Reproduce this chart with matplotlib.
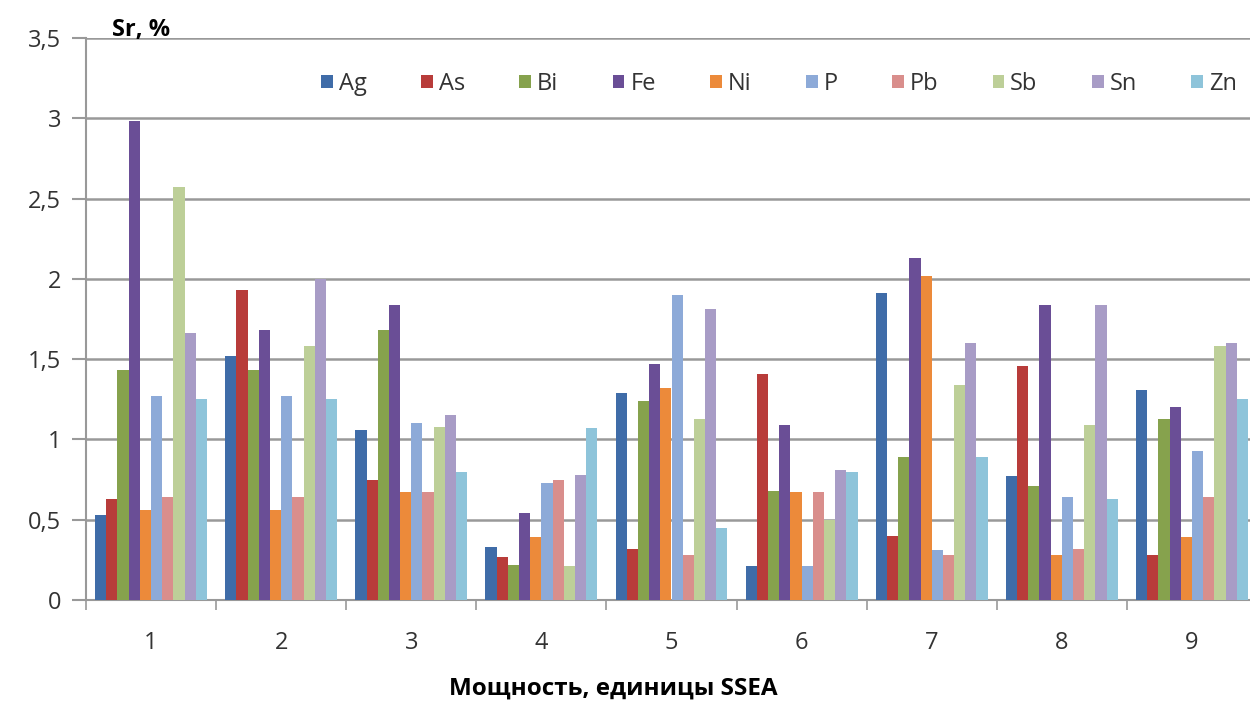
import matplotlib.pyplot as plt
import numpy as np

plt.rcParams['font.family'] = ['Open Sans', 'DejaVu Sans']

groups = ['1', '2', '3', '4', '5', '6', '7', '8', '9']
elements = ['Ag', 'As', 'Bi', 'Fe', 'Ni', 'P', 'Pb', 'Sb', 'Sn', 'Zn']

ag = [0.53, 1.52, 1.06, 0.33, 1.29, 0.21, 1.91, 0.77, 1.31]
as_ = [0.63, 1.93, 0.75, 0.27, 0.32, 1.41, 0.40, 1.46, 0.28]
bi = [1.43, 1.43, 1.68, 0.22, 1.24, 0.68, 0.89, 0.71, 1.13]
fe = [2.98, 1.68, 1.84, 0.54, 1.47, 1.09, 2.13, 1.84, 1.20]
ni = [0.56, 0.56, 0.67, 0.39, 1.32, 0.67, 2.02, 0.28, 0.39]
p = [1.27, 1.27, 1.10, 0.73, 1.90, 0.21, 0.31, 0.64, 0.93]
pb = [0.64, 0.64, 0.67, 0.75, 0.28, 0.67, 0.28, 0.32, 0.64]
sb = [2.57, 1.58, 1.08, 0.21, 1.13, 0.50, 1.34, 1.09, 1.58]
sn = [1.66, 2.00, 1.15, 0.78, 1.81, 0.81, 1.60, 1.84, 1.60]
zn = [1.25, 1.25, 0.80, 1.07, 0.45, 0.80, 0.89, 0.63, 1.25]

series = [ag, as_, bi, fe, ni, p, pb, sb, sn, zn]
colors = ['#3f6ca8', '#b83c3a', '#86a24d', '#6a4e96', '#ec8a3a',
          '#8daad8', '#d98e8c', '#bdcf98', '#a89cc6', '#8ec4da']

fig = plt.figure(figsize=(12.5, 7.02), dpi=100)
# axes runs past the right edge, like in the cropped original
ax = fig.add_axes([86 / 1250, 102 / 702, 1171 / 1250, 562 / 702])

x = np.arange(len(groups))
n = len(series)
w = 0.86 / n
for i, (vals, c, name) in enumerate(zip(series, colors, elements)):
    ax.bar(x - 0.43 + (i + 0.5) * w, vals, width=w, color=c, label=name, zorder=3)

ax.set_xlim(-0.5, len(groups) - 0.5)
ax.set_ylim(0, 3.5)
ax.set_yticks(np.arange(0, 3.51, 0.5))
ax.set_yticklabels(['0', '0,5', '1', '1,5', '2', '2,5', '3', '3,5'], fontsize=17, color='#333333')
ax.set_xticks(x)
ax.set_xticklabels(groups, fontsize=17, color='#333333')
ax.set_xticks(np.arange(-0.5, len(groups)), minor=True)
ax.tick_params(axis='x', which='major', length=0, pad=22)
ax.tick_params(axis='x', which='minor', length=7, color='#999999', width=1.2)
ax.tick_params(axis='y', length=10, color='#999999', width=1.5, pad=8)

ax.grid(axis='y', color='#999999', linewidth=1.8, zorder=0)
for s in ['top', 'right']:
    ax.spines[s].set_visible(False)
ax.spines['left'].set_color('#999999')
ax.spines['left'].set_linewidth(1.5)
ax.spines['bottom'].set_color('#999999')
ax.spines['bottom'].set_linewidth(1.5)

fig.text(112 / 1250, 1 - 30 / 702, 'Sr, %', fontsize=17, fontweight='bold', va='center')
fig.text(613 / 1250, 1 - 689 / 702, 'Мощность, единицы SSEA', fontsize=17.5,
         fontweight='bold', ha='center', va='center')

fig.legend(loc='center left', bbox_to_anchor=(300 / 1250, 1 - 84 / 702), ncol=10,
           frameon=False, fontsize=17, handlelength=0.5, handleheight=0.5,
           handletextpad=0.25, columnspacing=2.3, labelcolor='#333333')

fig.savefig('out.png', dpi=100)
